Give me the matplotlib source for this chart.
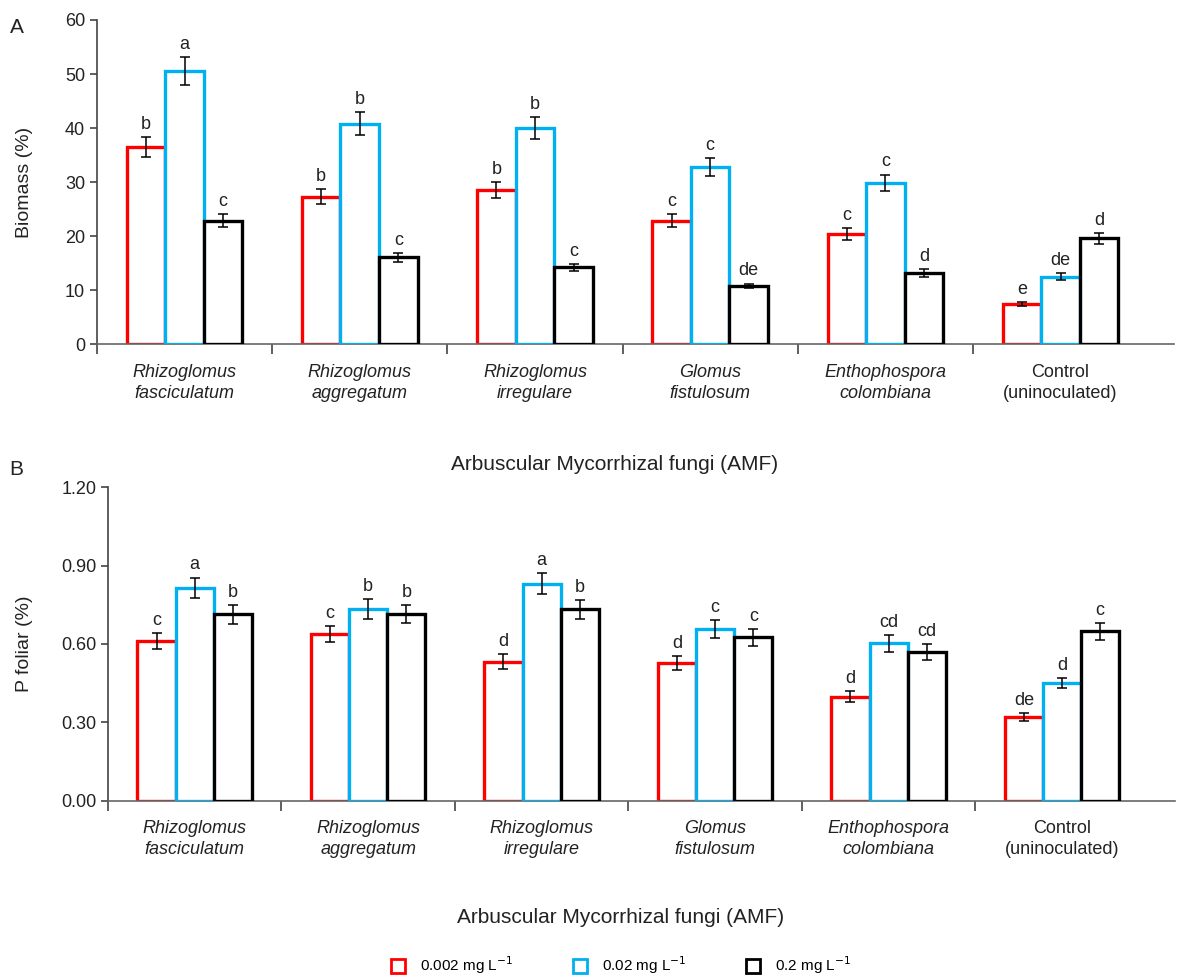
import numpy as np
import matplotlib
matplotlib.use('Agg')
import matplotlib.pyplot as plt
from matplotlib.lines import Line2D

plt.rcParams['font.family'] = ['Liberation Sans', 'DejaVu Sans']

categories = ['Rhizoglomus\nfasciculatum', 'Rhizoglomus\naggregatum', 'Rhizoglomus\nirregulare',
              'Glomus\nfistulosum', 'Enthophospora\ncolombiana', 'Control\n(uninoculated)']
italic = [True, True, True, True, True, False]
doses = ['0.002 mg L$^{-1}$', '0.02 mg L$^{-1}$', '0.2 mg L$^{-1}$']

# panel A: biomass (%)
bio_low = [36.5, 27.3, 28.5, 22.8, 20.4, 7.4]
bio_mid = [50.5, 40.8, 40.0, 32.8, 29.9, 12.5]
bio_high = [22.8, 16.1, 14.2, 10.8, 13.2, 19.6]
bio_err_low = [1.8, 1.4, 1.5, 1.2, 1.1, 0.4]
bio_err_mid = [2.6, 2.1, 2.1, 1.7, 1.5, 0.7]
bio_err_high = [1.2, 0.8, 0.6, 0.4, 0.7, 1.0]
bio_let_low = ['b', 'b', 'b', 'c', 'c', 'e']
bio_let_mid = ['a', 'b', 'b', 'c', 'c', 'de']
bio_let_high = ['c', 'c', 'c', 'de', 'd', 'd']

# panel B: P foliar (%)
p_low = [0.612, 0.638, 0.533, 0.527, 0.399, 0.320]
p_mid = [0.814, 0.734, 0.830, 0.657, 0.602, 0.450]
p_high = [0.714, 0.715, 0.732, 0.625, 0.569, 0.648]
p_err_low = [0.030, 0.030, 0.027, 0.027, 0.020, 0.015]
p_err_mid = [0.040, 0.037, 0.040, 0.034, 0.031, 0.020]
p_err_high = [0.036, 0.035, 0.035, 0.033, 0.030, 0.033]
p_let_low = ['c', 'c', 'd', 'd', 'd', 'de']
p_let_mid = ['a', 'b', 'a', 'c', 'cd', 'd']
p_let_high = ['b', 'b', 'b', 'c', 'cd', 'c']

colors = ['#ff0000', '#00b0f0', '#000000']


def draw_panel(ax, vals, errs, lets, ylim, yticks, fmt, ylabel):
    x = np.arange(len(categories))
    w = 0.22
    for k in range(3):
        xs = x + (k - 1) * w
        ax.bar(xs, vals[k], w, facecolor='white', edgecolor=colors[k], linewidth=2.4, zorder=2 + k)
        ax.errorbar(xs, vals[k], yerr=errs[k], fmt='none', ecolor='black', elinewidth=1.1,
                    capsize=3.5, capthick=1.1, zorder=10)
        for xi, v, e, l in zip(xs, vals[k], errs[k], lets[k]):
            ax.annotate(l, (xi, v + e), xytext=(0, 3), textcoords='offset points',
                        ha='center', va='bottom', fontsize=13, color='#222222')
    ax.set_xlim(-0.5, 5.65)
    ax.set_ylim(*ylim)
    ax.set_yticks(yticks)
    ax.set_yticklabels([fmt % t for t in yticks], fontsize=13, color='#222222')
    ax.set_xticks(np.arange(len(categories)) - 0.5, minor=True)
    ax.set_xticks([])
    ax.tick_params(axis='x', which='minor', length=7, width=1.2, color='#444444')
    ax.tick_params(axis='y', length=5, width=1.2, color='#444444')
    ax.spines['top'].set_visible(False)
    ax.spines['right'].set_visible(False)
    ax.spines['left'].set_color('#444444')
    ax.spines['left'].set_linewidth(1.2)
    ax.spines['bottom'].set_color('#666666')
    ax.spines['bottom'].set_linewidth(1.2)
    ax.set_ylabel(ylabel, fontsize=14, color='#222222')
    for xi, c, it in zip(x, categories, italic):
        ax.text(xi, -0.06, c, transform=ax.get_xaxis_transform(), ha='center', va='top',
                fontsize=13, style='italic' if it else 'normal', color='#222222', linespacing=1.35)
    ax.text(0.48, -0.37, 'Arbuscular Mycorrhizal fungi (AMF)', transform=ax.transAxes,
            ha='center', va='center', fontsize=15, color='#222222')


fig = plt.figure(figsize=(11.88, 9.75), dpi=100)
axA = fig.add_axes([0.0816, 0.647, 0.907, 0.3325])
axB = fig.add_axes([0.0909, 0.1785, 0.898, 0.322])

draw_panel(axA, [bio_low, bio_mid, bio_high], [bio_err_low, bio_err_mid, bio_err_high],
           [bio_let_low, bio_let_mid, bio_let_high], (0, 60), np.arange(0, 61, 10), '%d', 'Biomass (%)')
draw_panel(axB, [p_low, p_mid, p_high], [p_err_low, p_err_mid, p_err_high],
           [p_let_low, p_let_mid, p_let_high], (0, 1.2), np.arange(0, 1.21, 0.3), '%.2f', 'P foliar (%)')
axA.yaxis.set_label_coords(-0.059, 0.5)
axB.yaxis.set_label_coords(-0.070, 0.5)

fig.text(0.008, 0.972, 'A', fontsize=15, va='center', color='#222222')
fig.text(0.008, 0.518, 'B', fontsize=15, va='center', color='#222222')

handles = [Line2D([], [], marker='s', linestyle='none', markersize=10, markerfacecolor='white',
                  markeredgecolor=c, markeredgewidth=2) for c in colors]
fig.legend(handles, doses, loc='center', bbox_to_anchor=(0.522, 0.01), ncol=3, frameon=False,
           fontsize=11, columnspacing=3.8, handletextpad=0.8, handlelength=1.2)

fig.savefig('out.png', dpi=100, facecolor='white')
